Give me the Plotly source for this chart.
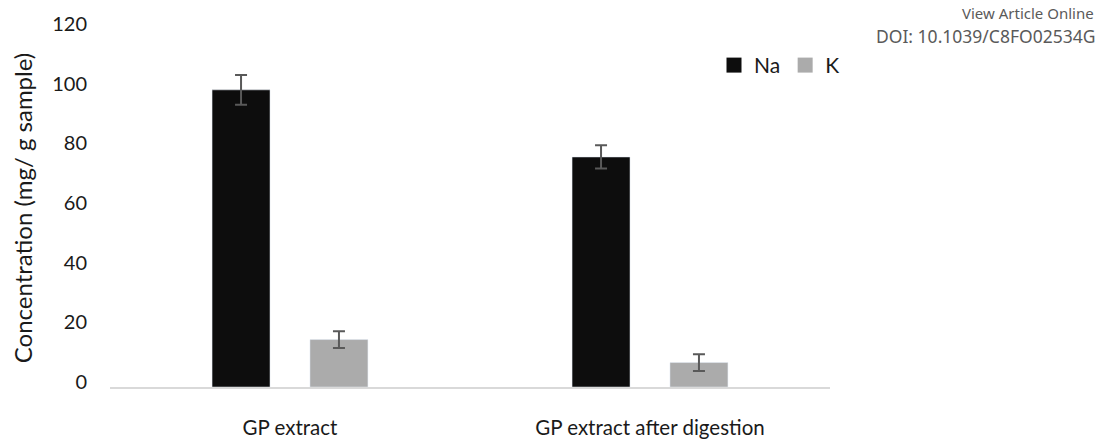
import plotly.graph_objects as go

categories = ["GP extract", "GP extract after digestion"]
na_values = [99.6, 77.1]
na_errors = [5.0, 3.9]
k_values = [15.9, 8.2]
k_errors = [2.8, 2.8]
y_ticks = [0, 20, 40, 60, 80, 100, 120]

FONT = "Lato"
TXT = "#1a1a1a"
NA_COLOR = "#0d0d0d"
K_COLOR = "#ababab"
ERR_COLOR = "#595959"

fig = go.Figure()
fig.add_trace(go.Bar(
    name="Na", x=categories, y=na_values, marker_color=NA_COLOR,
    error_y=dict(type="data", array=na_errors, color=ERR_COLOR, thickness=2, width=6),
    showlegend=False,
))
fig.add_trace(go.Bar(
    name="K", x=categories, y=k_values, marker_color=K_COLOR,
    error_y=dict(type="data", array=k_errors, color=ERR_COLOR, thickness=2, width=6),
    showlegend=False,
))
# legend entries with square swatches
fig.add_trace(go.Scatter(name="Na", x=[None], y=[None], mode="markers",
                         marker=dict(symbol="square", size=15, color=NA_COLOR)))
fig.add_trace(go.Scatter(name="K", x=[None], y=[None], mode="markers",
                         marker=dict(symbol="square", size=15, color=K_COLOR)))

W, H = 1113, 445
L, R, T, B = 110, 283, 29, 57.5
PW, PH = W - L - R, H - T - B
fig.update_layout(
    width=W, height=H,
    margin=dict(l=L, r=R, t=T, b=B, autoexpand=False),
    paper_bgcolor="white", plot_bgcolor="white",
    barmode="group", bargap=0.456, bargroupgap=0.408,
    font=dict(family=FONT, size=20, color=TXT),
    legend=dict(orientation="h", x=(714 - L) / PW, y=(H - B - 65.5) / PH,
                xanchor="left", yanchor="middle",
                font=dict(family=FONT, size=21, color=TXT),
                itemwidth=30, bgcolor="rgba(0,0,0,0)", tracegroupgap=0),
    xaxis=dict(type="category", showgrid=False, showline=True, linecolor="#d9d9d9",
               linewidth=2, ticks="", ticklabelstandoff=21,
               tickfont=dict(family=FONT, size=20.5, color=TXT)),
    yaxis=dict(range=[0, 120], tickvals=y_ticks, showgrid=False, zeroline=False,
               showline=False, ticks="", ticklabelstandoff=22, ticklabelshift=-5,
               tickfont=dict(family=FONT, size=20, color=TXT),
               title=dict(text="Concentration (mg/ g sample)", standoff=12,
                          font=dict(family=FONT, size=24, color=TXT))),
)

fig.add_annotation(text="View Article Online", xref="paper", yref="paper",
                   x=(1096 - L) / PW, y=(H - B - 13) / PH,
                   xanchor="right", yanchor="middle", showarrow=False,
                   font=dict(family="Noto Sans", size=15, color="#5a5a5a"))
fig.add_annotation(text="DOI: 10.1039/C8FO02534G", xref="paper", yref="paper",
                   x=(1097 - L) / PW, y=(H - B - 36) / PH,
                   xanchor="right", yanchor="middle", showarrow=False,
                   font=dict(family="Noto Sans", size=17.5, color="#5a5a5a"))

fig.write_html("out.html")
